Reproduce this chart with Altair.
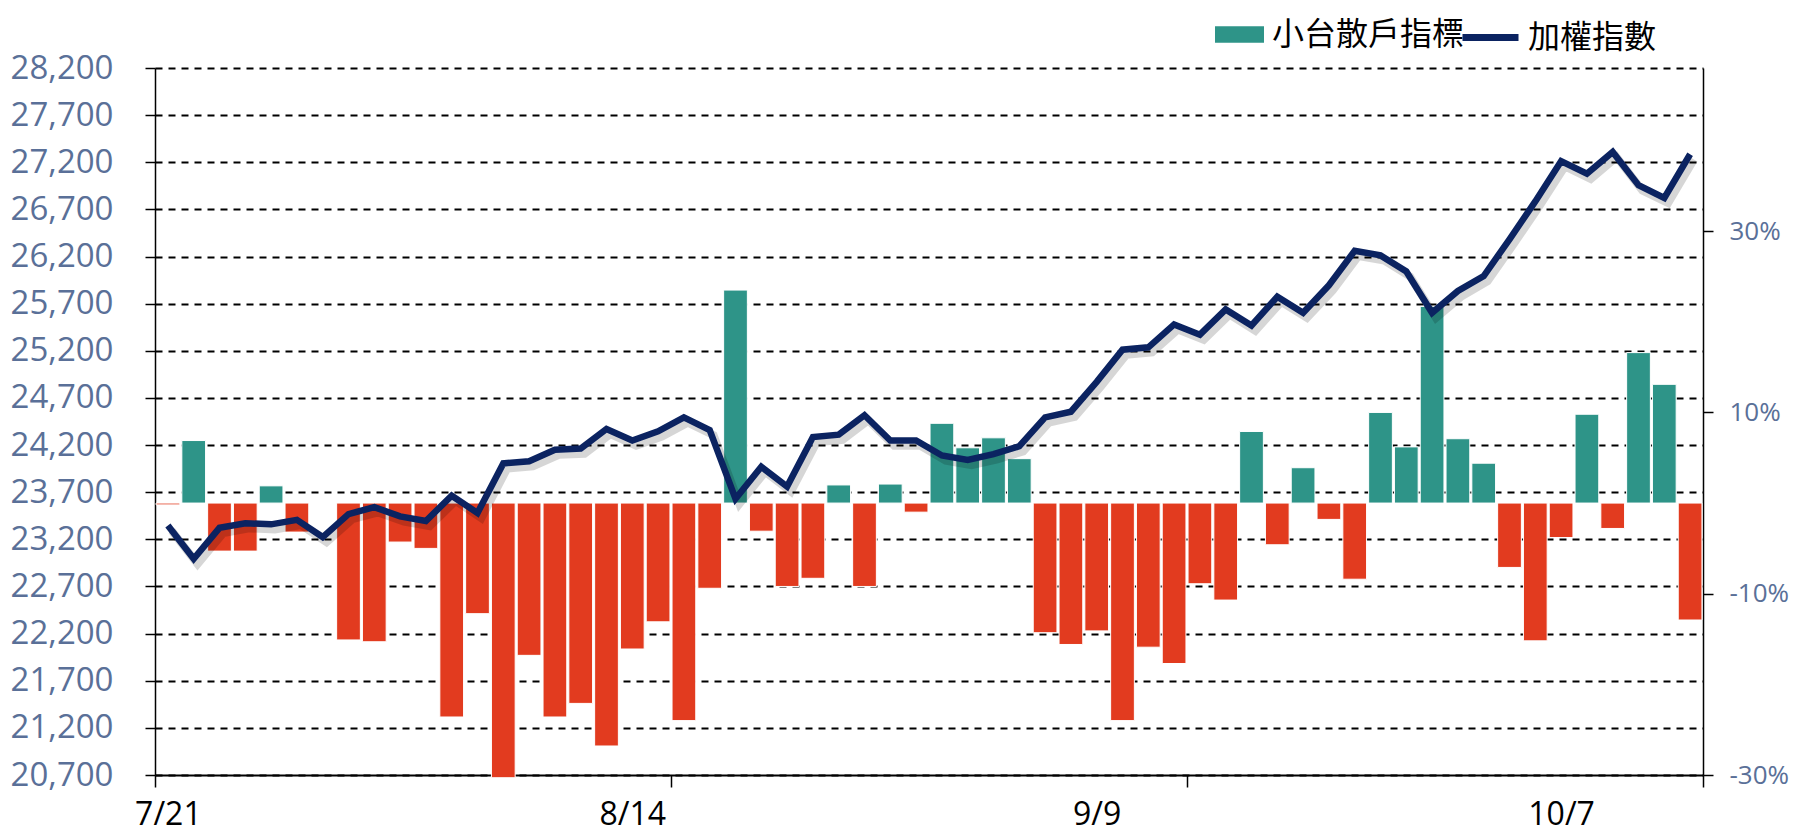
import altair as alt
import pandas as pd

# ---------------- data ----------------
dates = [
    "7/21", "7/22", "7/23", "7/24", "7/25", "7/28", "7/29", "7/30", "7/31", "8/1",
    "8/4", "8/5", "8/6", "8/7", "8/8", "8/11", "8/12", "8/13", "8/14", "8/15",
    "8/18", "8/19", "8/20", "8/21", "8/22", "8/25", "8/26", "8/27", "8/28", "8/29",
    "9/1", "9/2", "9/3", "9/4", "9/5", "9/8", "9/9", "9/10", "9/11", "9/12",
    "9/15", "9/16", "9/17", "9/18", "9/19", "9/22", "9/23", "9/24", "9/25", "9/26",
    "9/30", "10/1", "10/2", "10/3", "10/7", "10/8", "10/9", "10/13", "10/14", "10/15",
]
taiex = [
    23346, 22993, 23322, 23371, 23359, 23407, 23224, 23468, 23541, 23444,
    23395, 23663, 23480, 24005, 24029, 24151, 24163, 24371, 24249, 24346,
    24493, 24359, 23630, 23970, 23760, 24285, 24310, 24517, 24249, 24249,
    24090, 24042, 24103, 24188, 24493, 24554, 24871, 25212, 25237, 25480,
    25371, 25639, 25468, 25773, 25603, 25895, 26261, 26212, 26042, 25603,
    25834, 25993, 26383, 26785, 27212, 27078, 27310, 26956, 26822, 27285,
]
retail = [
    -0.2, 6.9, -5.3, -5.3, 1.9, -3.2, 0.0, -15.1, -15.3, -4.3,
    -5.0, -23.6, -12.2, -30.3, -16.8, -23.6, -22.1, -26.8, -16.1, -13.1,
    -24.0, -9.4, 23.5, -3.1, -9.2, -8.3, 2.0, -9.2, 2.1, -1.0,
    8.8, 6.1, 7.2, 4.9, -14.3, -15.6, -14.1, -24.0, -15.9, -17.7,
    -8.9, -10.7, 7.9, -4.6, 3.9, -1.8, -8.4, 10.0, 6.2, 21.7,
    7.1, 4.4, -7.1, -15.2, -3.8, 9.8, -2.8, 16.6, 13.1, -12.9,
]
label_dates = ["7/21", "8/14", "9/9", "10/7"]
label_index = [0, 18, 36, 54]
tick_index = [0, 20, 40, 60]
left_ticks = list(range(20700, 28201, 500))
right_ticks = [-30, -10, 10, 30]

SERIES_BAR = "小台散戶指標"
SERIES_LINE = "加權指數"

GREEN = "#2e9488"
RED = "#e23b1f"
NAVY = "#0b2361"
SLATE = "#5a7098"
FONT = "Open Sans"
CJK = "Noto Sans CJK TC"

W, H = 1548, 707

df = pd.DataFrame({
    "i": list(range(len(dates))),
    "date": dates,
    "taiex": taiex,
    "retail": retail,
})

label_vals = [p + 0.5 for p in label_index]
axis_vals = sorted(tick_index + label_vals)
label_expr = " : ".join(
    f"datum.value == {v} ? '{t}'" for v, t in zip(label_vals, label_dates)
) + " : ''"

xscale = alt.Scale(domain=[0, len(dates)], nice=False, zero=False)
yleft = alt.Scale(domain=[20700, 28200], nice=False, zero=False)
yright = alt.Scale(domain=[-30, 48], nice=False, zero=False)

x_axis = alt.Axis(
    values=axis_vals, labelExpr=label_expr, grid=False,
    domainColor="black", domainWidth=2,
    tickColor="black", tickSize=12, tickWidth=1.5,
    tickOpacity={"condition": {"test": "datum.value % 20 == 0", "value": 1}, "value": 0},
    labelFont=FONT, labelFontSize=32, labelColor="black", labelPadding=12,
    labelFlush=False, labelOverlap=False, title=None,
)
right_axis = alt.Axis(
    orient="right", values=right_ticks, labelExpr="datum.value + '%'",
    grid=False, domainColor="black", domainWidth=1.5,
    tickColor="black", tickSize=10, tickWidth=1.5,
    labelFont=FONT, labelFontSize=26, labelColor=SLATE, labelPadding=16,
    title=None,
)
left_axis = alt.Axis(
    orient="left", values=left_ticks, format=",d",
    grid=True, gridColor="black", gridDash=[7, 6], gridWidth=2,
    domainColor="black", domainWidth=1.5,
    tickColor="black", tickSize=10, tickWidth=1.5,
    labelFont=FONT, labelFontSize=33, labelColor=SLATE, labelPadding=32,
    title=None,
)

bars = alt.Chart(df).transform_calculate(
    x0="datum.i + 0.04",
    x1="datum.i + 0.96",
    zero="0",
    series=f"datum.retail >= 0 ? '{SERIES_BAR}' : 'neg'",
).mark_bar(stroke="white", strokeWidth=1).encode(
    x=alt.X("x0:Q", scale=xscale, axis=x_axis),
    x2="x1:Q",
    y=alt.Y("retail:Q", scale=yright, axis=right_axis),
    y2="zero:Q",
    color=alt.Color(
        "series:N",
        scale=alt.Scale(domain=[SERIES_BAR, "neg"], range=[GREEN, RED]),
        legend=alt.Legend(
            values=[SERIES_BAR], orient="none", legendX=1060, legendY=-58,
            title=None, direction="horizontal",
            symbolType="M-1,-0.34L1,-0.34L1,0.34L-1,0.34Z", symbolSize=2401,
            symbolStrokeWidth=0, symbolOpacity=1,
            labelFont=CJK, labelFontSize=32, labelColor="black",
            labelOffset=8, labelLimit=400,
        ),
    ),
)

shadow = alt.Chart(df).transform_calculate(
    xs="datum.i + 0.65",
    ys="datum.taiex - 55",
).mark_line(color="black", opacity=0.16, strokeWidth=8).encode(
    x=alt.X("xs:Q", scale=xscale, axis=x_axis),
    y=alt.Y("ys:Q", scale=yleft, axis=left_axis),
)

line = alt.Chart(df).transform_calculate(
    xc="datum.i + 0.5",
    name=f"'{SERIES_LINE}'",
).mark_line(strokeWidth=6.5).encode(
    x=alt.X("xc:Q", scale=xscale, axis=x_axis),
    y=alt.Y("taiex:Q", scale=yleft, axis=left_axis),
    stroke=alt.Stroke(
        "name:N",
        scale=alt.Scale(domain=[SERIES_LINE], range=[NAVY]),
        legend=alt.Legend(
            orient="none", legendX=1304, legendY=-62, title=None,
            direction="horizontal", symbolType="stroke", symbolSize=3136,
            symbolStrokeWidth=7,
            labelFont=CJK, labelFontSize=32, labelColor="black",
            labelOffset=6, labelLimit=400,
        ),
    ),
)

# shadow and index line share the left scale; bars use the right scale
lines = alt.layer(shadow, line)

chart = alt.layer(bars, lines).resolve_scale(
    y="independent"
).properties(
    width=W, height=H,
    autosize=alt.AutoSizeParams(type="none"),
    padding={"left": 147, "top": 60, "right": 89, "bottom": 60},
).configure_view(strokeWidth=0)

chart.save("out.html", embed_options={"renderer": "svg", "actions": False})
